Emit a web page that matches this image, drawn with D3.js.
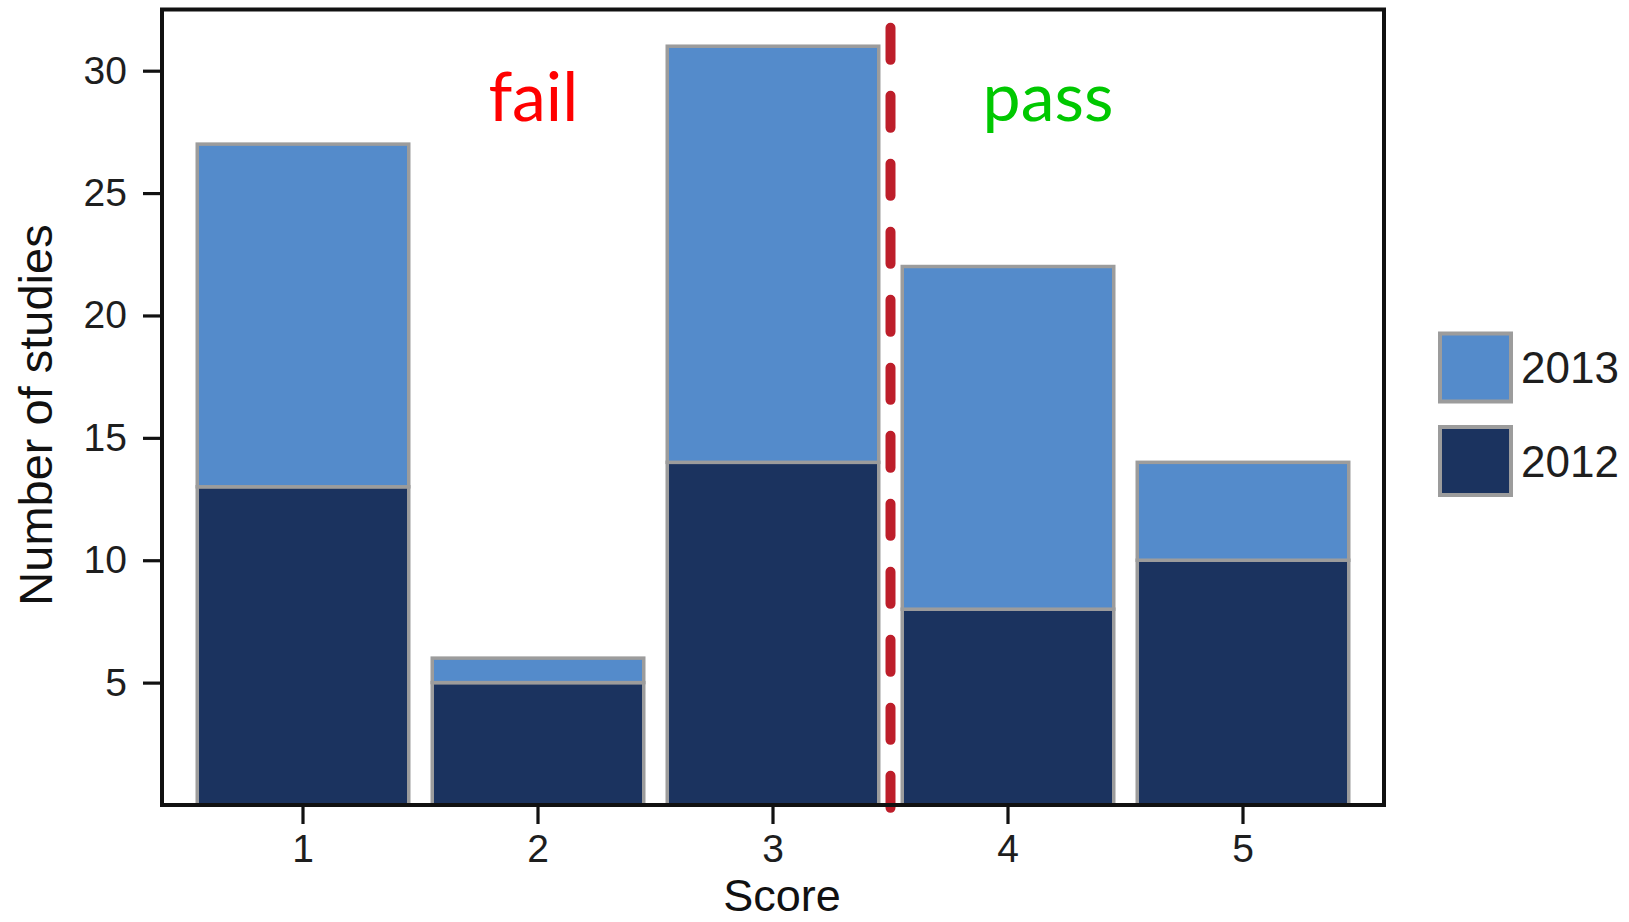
<!DOCTYPE html>
<html>
<head>
<meta charset="utf-8">
<script src="https://cdn.jsdelivr.net/npm/d3@7"></script>
<style>
  html, body { margin: 0; padding: 0; background: #fff; }
  svg { display: block; }
</style>
</head>
<body>
<svg id="chart" width="1629" height="922"></svg>
<script>
// ---- data ----
const scores = ["1", "2", "3", "4", "5"];
const values2012 = [13, 5, 14, 8, 10];
const values2013 = [14, 1, 17, 14, 4];
const seriesNames = ["2012", "2013"];
const yTicks = [5, 10, 15, 20, 25, 30];
const legendOrder = ["2013", "2012"];
const cutoffScore = 3.5;
const annotations = [{ text: "fail", at: 1.98, color: "#ff0000" }, { text: "pass", at: 4.17, color: "#00c800" }];

// ---- layout ----
const W = 1629, H = 922;
const plot = { left: 162, right: 1384, top: 9.5, bottom: 805 };
const colors = { "2012": "#1b335f", "2013": "#548bcb" };
const barStroke = "#9c9c9c";
const textColor = "#1e1e1e";

const svg = d3.select("#chart");

const x = d3.scaleBand()
  .domain(scores)
  .range([plot.left, plot.right])
  .paddingInner(0.1)
  .paddingOuter(0.15);

const y = d3.scaleLinear()
  .domain([0, 32.5])
  .range([plot.bottom, plot.top]);

// continuous position along the discrete axis (for the cutoff line / labels)
const xc = v => {
  const c1 = x("1") + x.bandwidth() / 2;
  return c1 + (v - 1) * x.step();
};

// stack
const rows = scores.map((s, i) => ({ score: s, "2012": values2012[i], "2013": values2013[i] }));
const stacked = d3.stack().keys(seriesNames)(rows);

const gBars = svg.append("g");
stacked.forEach(layer => {
  gBars.selectAll(null)
    .data(layer)
    .enter()
    .append("rect")
    .attr("x", d => x(d.data.score))
    .attr("width", x.bandwidth())
    .attr("y", d => y(d[1]))
    .attr("height", d => y(d[0]) - y(d[1]))
    .attr("fill", colors[layer.key])
    .attr("stroke", barStroke)
    .attr("stroke-width", 3.5);
});

// cutoff dashed line
svg.append("line")
  .attr("x1", xc(cutoffScore))
  .attr("x2", xc(cutoffScore))
  .attr("y1", y(31.75))
  .attr("y2", y(-0.12))
  .attr("stroke", "#bd1e2a")
  .attr("stroke-width", 10)
  .attr("stroke-linecap", "round")
  .attr("stroke-dasharray", "32,36");

// annotations
annotations.forEach(a => {
  svg.append("text")
    .attr("x", xc(a.at))
    .attr("y", 121)
    .attr("text-anchor", "middle")
    .attr("font-family", "Lato, 'Open Sans', sans-serif")
    .attr("font-size", 68)
    .attr("fill", a.color)
    .text(a.text);
});

// axes
const yAxis = d3.axisLeft(y).tickValues(yTicks).tickSize(19).tickPadding(16);
const gy = svg.append("g").attr("transform", `translate(${plot.left},0)`).call(yAxis);
const xAxis = d3.axisBottom(x).tickSize(19).tickPadding(10);
const gx = svg.append("g").attr("transform", `translate(0,${plot.bottom})`).call(xAxis);

[gy, gx].forEach(g => {
  g.select(".domain").remove();
  g.selectAll(".tick line").attr("stroke", "#111").attr("stroke-width", 3.2);
  g.selectAll(".tick text")
    .attr("font-family", "'Liberation Sans', Arial, sans-serif")
    .attr("font-size", 39)
    .attr("fill", textColor);
});

// panel border
svg.append("rect")
  .attr("x", plot.left)
  .attr("y", plot.top)
  .attr("width", plot.right - plot.left)
  .attr("height", plot.bottom - plot.top)
  .attr("fill", "none")
  .attr("stroke", "#111")
  .attr("stroke-width", 4);

// axis titles
svg.append("text")
  .attr("x", 782)
  .attr("y", 911)
  .attr("text-anchor", "middle")
  .attr("font-family", "'Liberation Sans', Arial, sans-serif")
  .attr("font-size", 45)
  .attr("fill", "#111")
  .text("Score");

svg.append("text")
  .attr("transform", "translate(52,415) rotate(-90)")
  .attr("text-anchor", "middle")
  .attr("font-family", "'Liberation Sans', Arial, sans-serif")
  .attr("font-size", 47)
  .attr("fill", "#111")
  .text("Number of studies");

// legend
const legend = svg.append("g");
const legendY = d3.scalePoint().domain(legendOrder).range([367.5, 461]);
legendOrder.forEach(k => {
  const cy = legendY(k);
  legend.append("rect")
    .attr("x", 1440)
    .attr("y", cy - 34)
    .attr("width", 71)
    .attr("height", 68)
    .attr("fill", colors[k])
    .attr("stroke", barStroke)
    .attr("stroke-width", 4);
  legend.append("text")
    .attr("x", 1521)
    .attr("y", cy)
    .attr("dy", "0.36em")
    .attr("font-family", "'Liberation Sans', Arial, sans-serif")
    .attr("font-size", 44)
    .attr("fill", textColor)
    .text(k);
});
</script>
</body>
</html>
